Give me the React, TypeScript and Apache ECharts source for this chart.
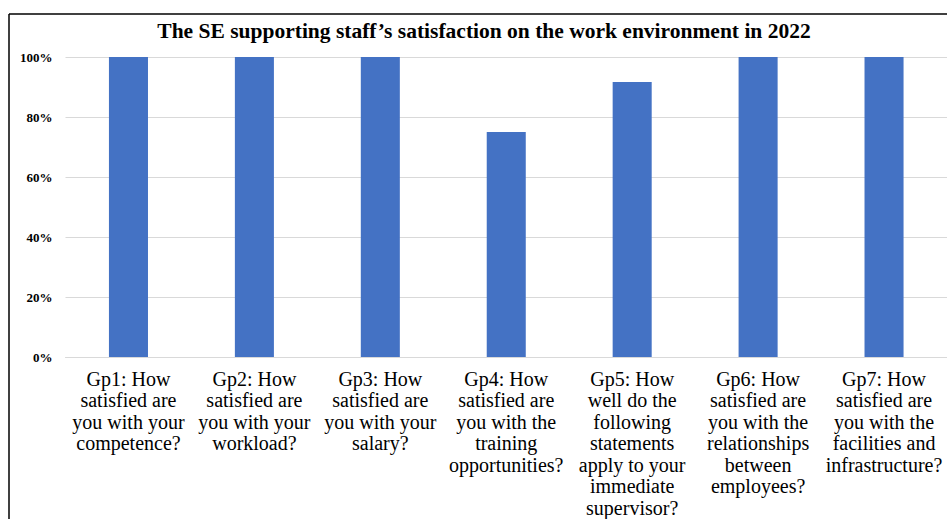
import React, { useEffect, useRef } from "react";
import * as echarts from "echarts";

const titleText = "The SE supporting staff\u2019s satisfaction on the work environment in 2022";
const categories = [
  "Gp1: How\nsatisfied are\nyou with your\ncompetence?",
  "Gp2: How\nsatisfied are\nyou with your\nworkload?",
  "Gp3: How\nsatisfied are\nyou with your\nsalary?",
  "Gp4: How\nsatisfied are\nyou with the\ntraining\nopportunities?",
  "Gp5: How\nwell do the\nfollowing\nstatements\napply to your\nimmediate\nsupervisor?",
  "Gp6: How\nsatisfied are\nyou with the\nrelationships\nbetween\nemployees?",
  "Gp7: How\nsatisfied are\nyou with the\nfacilities and\ninfrastructure?",
];
const values = [1.0, 1.0, 1.0, 0.75, 0.9167, 1.0, 1.0];
const yTicks = [0, 0.2, 0.4, 0.6, 0.8, 1.0];

const SERIF = "'Liberation Serif', 'Times New Roman', serif";

export default function App() {
  const ref = useRef<HTMLDivElement>(null);
  useEffect(() => {
    if (!ref.current) return;
    const chart = echarts.init(ref.current, undefined, { renderer: "svg" });
    chart.setOption({
      animation: false,
      backgroundColor: "#ffffff",
      title: {
        text: titleText,
        left: 479,
        top: 15,
        textAlign: "center",
        textStyle: { fontFamily: SERIF, fontWeight: "bold", fontSize: 21.5, color: "#000" },
      },
      grid: { left: 65.5, right: 0, top: 57, bottom: 162, containLabel: false },
      xAxis: {
        type: "category",
        data: categories,
        axisTick: { show: false },
        axisLine: { lineStyle: { color: "#d9d9d9", width: 1 } },
        axisLabel: {
          interval: 0,
          margin: 11,
          fontFamily: SERIF,
          fontSize: 20,
          lineHeight: 21.5,
          color: "#000",
          align: "center",
        },
      },
      yAxis: {
        type: "value",
        min: yTicks[0],
        max: yTicks[yTicks.length - 1],
        interval: 0.2,
        axisLine: { show: false },
        axisTick: { show: false },
        splitLine: { lineStyle: { color: "#d9d9d9", width: 1 } },
        axisLabel: {
          margin: 13,
          fontFamily: SERIF,
          fontWeight: "bold",
          fontSize: 13,
          color: "#000",
          formatter: (v: number) => Math.round(v * 100) + "%",
        },
      },
      series: [
        {
          type: "bar",
          data: values,
          barWidth: "31%",
          itemStyle: { color: "#4472C4" },
        },
      ],
      graphic: [
        { type: "line", shape: { x1: 9, y1: 14, x2: 947, y2: 14 }, style: { stroke: "#000", lineWidth: 1.5 } },
        { type: "line", shape: { x1: 9, y1: 14, x2: 9, y2: 519 }, style: { stroke: "#000", lineWidth: 1.5 } },
      ],
    });
    return () => chart.dispose();
  }, []);
  return (
    <div
      ref={ref}
      style={{ position: "fixed", left: 0, top: 0, width: 947, height: 519 }}
    />
  );
}
